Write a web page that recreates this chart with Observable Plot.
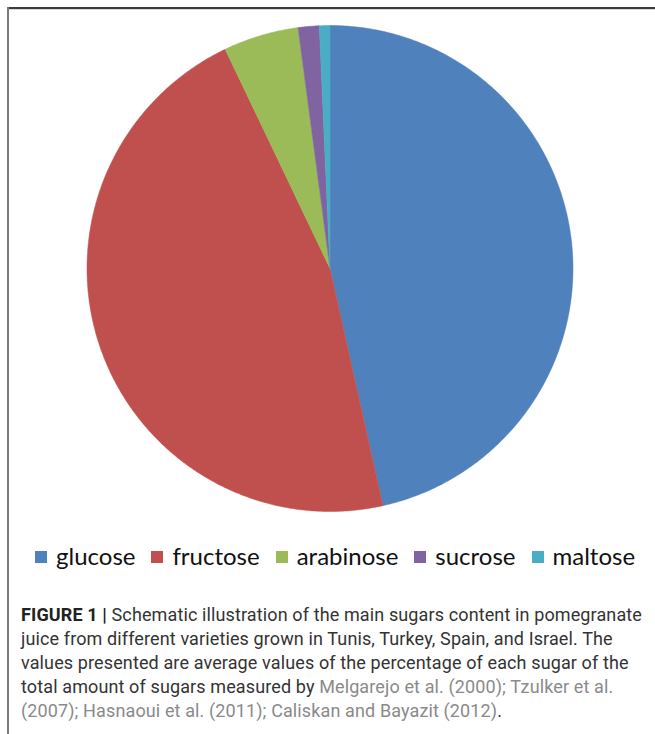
<!DOCTYPE html>
<html>
<head>
<meta charset="utf-8">
<script src="https://cdn.jsdelivr.net/npm/d3@7"></script>
<script src="https://cdn.jsdelivr.net/npm/@observablehq/plot@0.6"></script>
<style>
  html, body { margin: 0; padding: 0; background: #fff; }
  body { width: 655px; height: 734px; position: relative; overflow: hidden; }
  #topline { position: absolute; left: 7px; top: 7px; width: 648px; height: 2px; background: #3c3c3c; }
  #topline2 { position: absolute; left: 9px; top: 9px; width: 646px; height: 1px; background: #d8d8d8; }
  #leftline { position: absolute; left: 7px; top: 7px; width: 2px; height: 727px; background: #7a7a7a; }
  #chart { position: absolute; left: 0; top: 0; }
  #legend { position: absolute; left: 35px; top: 541px; display: flex; align-items: center;
            font-family: Lato, "Open Sans", sans-serif; font-size: 24px; color: #111; white-space: nowrap; }
  .item { display: flex; align-items: center; margin-right: 16px; }
  .sw { width: 12px; height: 12px; margin-right: 9px; margin-top: 2px; }
  #caption { position: absolute; left: 21px; top: 603px; width: 634px;
             font-family: Roboto, "Liberation Sans", sans-serif; font-size: 18px; line-height: 24px;
             color: #333; letter-spacing: 0.12px; }
  #caption .ln { white-space: nowrap; }
  #caption b { font-weight: bold; color: #222; }
  #caption .ref { color: #8a8a8a; }
</style>
</head>
<body>
<div id="topline"></div>
<div id="topline2"></div>
<div id="leftline"></div>
<div id="chart"></div>
<div id="legend"></div>
<div id="caption">
  <div class="ln"><b>FIGURE 1 |</b> Schematic illustration of the main sugars content in pomegranate</div>
  <div class="ln">juice from different varieties grown in Tunis, Turkey, Spain, and Israel. The</div>
  <div class="ln">values presented are average values of the percentage of each sugar of the</div>
  <div class="ln">total amount of sugars measured by <span class="ref">Melgarejo et al. (2000); Tzulker et al.</span></div>
  <div class="ln"><span class="ref">(2007); Hasnaoui et al. (2011); Caliskan and Bayazit (2012)</span>.</div>
</div>
<script>
const sugars = ["glucose", "fructose", "arabinose", "sucrose", "maltose"];
const shares = [46.5, 46.4, 5.0, 1.4, 0.7];
const colors = ["#4F81BD", "#C0504D", "#9BBB59", "#8064A2", "#4BACC6"];

// Build slice outlines (unit circle) from d3.pie angles
const arcs = d3.pie().sort(null).value(d => d)(shares);
const pts = [];
arcs.forEach((a, i) => {
  const name = sugars[i];
  pts.push({name, x: 0, y: 0});
  const n = Math.max(4, Math.ceil((a.endAngle - a.startAngle) / 0.01));
  for (let k = 0; k <= n; k++) {
    const t = a.startAngle + (a.endAngle - a.startAngle) * k / n;
    pts.push({name, x: Math.sin(t), y: Math.cos(t)});
  }
  pts.push({name, x: 0, y: 0});
});

const chart = Plot.plot({
  width: 655,
  height: 530,
  margin: 0,
  x: {domain: [-1, 1], range: [86.5, 572.5], axis: null},
  y: {domain: [-1, 1], range: [511, 25], axis: null},
  color: {domain: sugars, range: colors},
  marks: [
    Plot.line(pts, {x: "x", y: "y", z: "name", fill: "name", stroke: "name", strokeWidth: 0.5, curve: "linear"})
  ]
});
document.getElementById("chart").appendChild(chart);

const legend = document.getElementById("legend");
sugars.forEach((s, i) => {
  const it = document.createElement("div");
  it.className = "item";
  it.innerHTML = `<div class="sw" style="background:${colors[i]}"></div><span>${s}</span>`;
  legend.appendChild(it);
});
</script>
</body>
</html>
